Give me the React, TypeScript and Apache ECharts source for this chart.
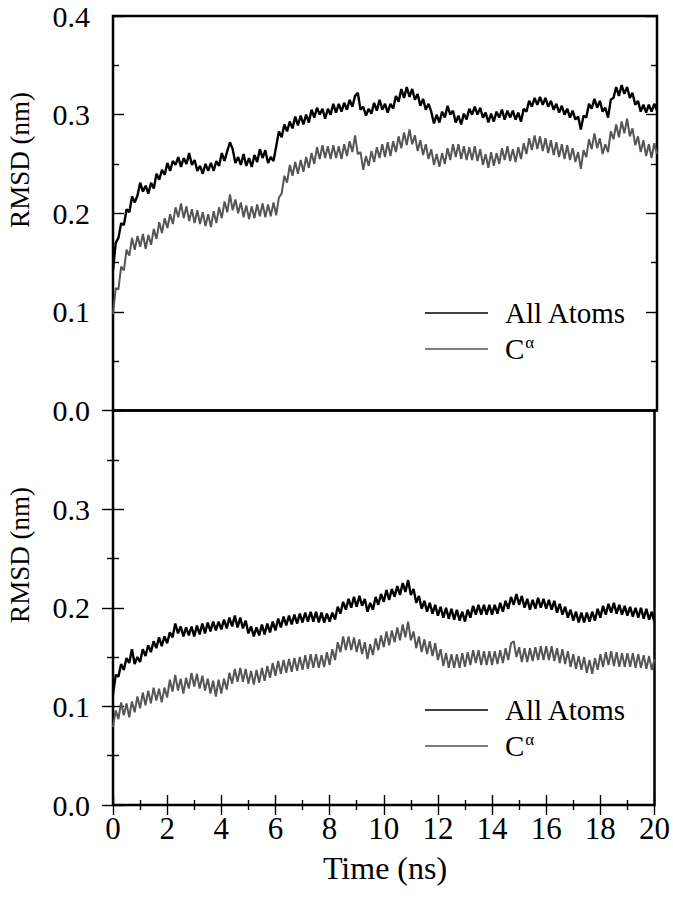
import React, { useEffect, useRef } from "react";
import * as echarts from "echarts";

// Sampling step of the traces (ns)
const TIME_STEP = 0.1;

// Upper panel: All atoms RMSD (nm), t = 0 .. 20 ns
const topAllAtoms = [
  0.142, 0.170, 0.175, 0.190, 0.188, 0.204, 0.201, 0.217, 0.211, 0.218,
  0.231, 0.222, 0.228, 0.220, 0.231, 0.225, 0.240, 0.234, 0.244, 0.239,
  0.251, 0.243, 0.253, 0.249, 0.257, 0.247, 0.256, 0.250, 0.261, 0.249,
  0.254, 0.243, 0.248, 0.240, 0.250, 0.243, 0.251, 0.243, 0.253, 0.248,
  0.261, 0.253, 0.263, 0.272, 0.265, 0.251, 0.257, 0.249, 0.260, 0.248,
  0.256, 0.247, 0.259, 0.252, 0.265, 0.256, 0.264, 0.251, 0.257, 0.253,
  0.268, 0.283, 0.277, 0.290, 0.283, 0.293, 0.286, 0.298, 0.289, 0.299,
  0.290, 0.300, 0.292, 0.305, 0.297, 0.307, 0.300, 0.306, 0.296, 0.306,
  0.300, 0.311, 0.302, 0.311, 0.303, 0.312, 0.305, 0.315, 0.308, 0.319,
  0.322, 0.305, 0.308, 0.299, 0.306, 0.301, 0.312, 0.304, 0.315, 0.305,
  0.311, 0.302, 0.311, 0.306, 0.319, 0.313, 0.326, 0.317, 0.328, 0.318,
  0.326, 0.315, 0.321, 0.309, 0.316, 0.305, 0.311, 0.303, 0.291, 0.300,
  0.292, 0.303, 0.297, 0.309, 0.300, 0.304, 0.292, 0.299, 0.290, 0.301,
  0.295, 0.306, 0.300, 0.308, 0.300, 0.307, 0.297, 0.302, 0.292, 0.301,
  0.293, 0.303, 0.297, 0.305, 0.295, 0.304, 0.297, 0.304, 0.295, 0.302,
  0.293, 0.306, 0.303, 0.314, 0.308, 0.317, 0.310, 0.318, 0.310, 0.317,
  0.308, 0.314, 0.305, 0.311, 0.302, 0.309, 0.300, 0.306, 0.297, 0.304,
  0.295, 0.298, 0.285, 0.299, 0.297, 0.311, 0.306, 0.316, 0.307, 0.314,
  0.303, 0.307, 0.297, 0.315, 0.317, 0.328, 0.319, 0.330, 0.321, 0.328,
  0.317, 0.322, 0.310, 0.314, 0.303, 0.310, 0.302, 0.310, 0.303, 0.311,
  0.304,
];

// Upper panel: C-alpha RMSD (nm)
const topCAlpha = [
  0.098, 0.124, 0.123, 0.146, 0.142, 0.163, 0.157, 0.175, 0.163, 0.177,
  0.166, 0.179, 0.164, 0.178, 0.168, 0.184, 0.174, 0.191, 0.180, 0.195,
  0.185, 0.199, 0.189, 0.206, 0.196, 0.210, 0.195, 0.207, 0.192, 0.204,
  0.190, 0.203, 0.189, 0.201, 0.187, 0.199, 0.186, 0.202, 0.190, 0.206,
  0.195, 0.212, 0.201, 0.219, 0.203, 0.214, 0.200, 0.211, 0.196, 0.208,
  0.194, 0.207, 0.195, 0.209, 0.197, 0.210, 0.196, 0.209, 0.197, 0.211,
  0.198, 0.216, 0.220, 0.238, 0.231, 0.249, 0.238, 0.252, 0.240, 0.254,
  0.242, 0.257, 0.246, 0.261, 0.250, 0.267, 0.255, 0.269, 0.256, 0.268,
  0.255, 0.269, 0.256, 0.268, 0.255, 0.270, 0.258, 0.273, 0.262, 0.279,
  0.260, 0.262, 0.244, 0.258, 0.248, 0.263, 0.252, 0.267, 0.256, 0.270,
  0.257, 0.272, 0.258, 0.273, 0.262, 0.278, 0.266, 0.282, 0.269, 0.285,
  0.270, 0.279, 0.263, 0.274, 0.259, 0.270, 0.255, 0.265, 0.249, 0.260,
  0.247, 0.261, 0.250, 0.266, 0.254, 0.270, 0.257, 0.270, 0.255, 0.268,
  0.254, 0.267, 0.254, 0.268, 0.253, 0.265, 0.249, 0.260, 0.246, 0.262,
  0.248, 0.261, 0.250, 0.266, 0.254, 0.268, 0.253, 0.265, 0.252, 0.267,
  0.255, 0.271, 0.260, 0.276, 0.264, 0.279, 0.265, 0.278, 0.263, 0.276,
  0.261, 0.274, 0.259, 0.272, 0.257, 0.270, 0.255, 0.269, 0.254, 0.266,
  0.252, 0.262, 0.245, 0.264, 0.257, 0.275, 0.265, 0.281, 0.266, 0.276,
  0.260, 0.270, 0.262, 0.283, 0.275, 0.290, 0.277, 0.293, 0.281, 0.296,
  0.278, 0.286, 0.269, 0.278, 0.262, 0.274, 0.258, 0.270, 0.256, 0.271,
  0.260,
];

// Lower panel: All atoms RMSD (nm)
const bottomAllAtoms = [
  0.112, 0.132, 0.130, 0.143, 0.137, 0.149, 0.144, 0.158, 0.143, 0.150,
  0.145, 0.158, 0.151, 0.162, 0.155, 0.166, 0.159, 0.170, 0.161, 0.171,
  0.164, 0.175, 0.170, 0.184, 0.174, 0.181, 0.171, 0.180, 0.172, 0.181,
  0.171, 0.182, 0.173, 0.184, 0.174, 0.185, 0.176, 0.186, 0.177, 0.186,
  0.178, 0.188, 0.179, 0.190, 0.181, 0.192, 0.180, 0.190, 0.179, 0.187,
  0.174, 0.181, 0.171, 0.180, 0.172, 0.183, 0.173, 0.184, 0.175, 0.186,
  0.177, 0.189, 0.180, 0.191, 0.182, 0.192, 0.183, 0.193, 0.184, 0.194,
  0.185, 0.195, 0.186, 0.196, 0.186, 0.196, 0.185, 0.195, 0.185, 0.194,
  0.186, 0.195, 0.188, 0.201, 0.194, 0.206, 0.198, 0.209, 0.200, 0.211,
  0.201, 0.212, 0.202, 0.209, 0.196, 0.205, 0.198, 0.211, 0.203, 0.214,
  0.206, 0.218, 0.208, 0.219, 0.211, 0.222, 0.213, 0.225, 0.216, 0.228,
  0.213, 0.219, 0.205, 0.212, 0.199, 0.207, 0.196, 0.205, 0.194, 0.203,
  0.192, 0.201, 0.190, 0.200, 0.189, 0.199, 0.188, 0.198, 0.187, 0.196,
  0.186, 0.198, 0.190, 0.202, 0.193, 0.203, 0.193, 0.203, 0.193, 0.203,
  0.193, 0.203, 0.194, 0.205, 0.196, 0.207, 0.199, 0.211, 0.203, 0.214,
  0.203, 0.212, 0.200, 0.209, 0.198, 0.208, 0.199, 0.210, 0.200, 0.209,
  0.199, 0.208, 0.198, 0.207, 0.195, 0.204, 0.193, 0.201, 0.190, 0.198,
  0.187, 0.196, 0.185, 0.195, 0.185, 0.195, 0.186, 0.196, 0.187, 0.199,
  0.190, 0.202, 0.193, 0.204, 0.195, 0.205, 0.194, 0.203, 0.193, 0.202,
  0.192, 0.201, 0.191, 0.200, 0.190, 0.200, 0.189, 0.199, 0.188, 0.196,
  0.185,
];

// Lower panel: C-alpha RMSD (nm)
const bottomCAlpha = [
  0.079, 0.096, 0.087, 0.104, 0.091, 0.103, 0.089, 0.105, 0.094, 0.110,
  0.098, 0.114, 0.101, 0.116, 0.103, 0.119, 0.106, 0.118, 0.104, 0.119,
  0.109, 0.127, 0.115, 0.132, 0.116, 0.128, 0.113, 0.129, 0.118, 0.134,
  0.120, 0.133, 0.118, 0.131, 0.116, 0.128, 0.113, 0.126, 0.110, 0.127,
  0.113, 0.128, 0.117, 0.134, 0.123, 0.138, 0.125, 0.139, 0.125, 0.138,
  0.123, 0.136, 0.122, 0.137, 0.124, 0.139, 0.126, 0.141, 0.129, 0.144,
  0.131, 0.146, 0.133, 0.147, 0.134, 0.148, 0.135, 0.149, 0.136, 0.150,
  0.137, 0.152, 0.138, 0.153, 0.139, 0.153, 0.139, 0.152, 0.140, 0.155,
  0.142, 0.158, 0.147, 0.165, 0.155, 0.171, 0.157, 0.171, 0.157, 0.170,
  0.155, 0.168, 0.153, 0.165, 0.148, 0.163, 0.152, 0.169, 0.157, 0.172,
  0.160, 0.176, 0.162, 0.177, 0.165, 0.180, 0.167, 0.183, 0.170, 0.186,
  0.167, 0.176, 0.159, 0.171, 0.155, 0.168, 0.153, 0.166, 0.151, 0.164,
  0.147, 0.158, 0.141, 0.154, 0.139, 0.153, 0.139, 0.153, 0.139, 0.154,
  0.140, 0.155, 0.142, 0.157, 0.144, 0.157, 0.142, 0.156, 0.142, 0.156,
  0.142, 0.156, 0.143, 0.157, 0.144, 0.159, 0.147, 0.164, 0.166, 0.150,
  0.160, 0.145, 0.159, 0.145, 0.159, 0.146, 0.160, 0.147, 0.161, 0.147,
  0.161, 0.147, 0.161, 0.146, 0.159, 0.144, 0.158, 0.143, 0.156, 0.140,
  0.153, 0.138, 0.151, 0.137, 0.150, 0.134, 0.147, 0.133, 0.149, 0.137,
  0.153, 0.140, 0.155, 0.142, 0.156, 0.141, 0.155, 0.140, 0.154, 0.140,
  0.154, 0.140, 0.154, 0.139, 0.153, 0.139, 0.152, 0.138, 0.151, 0.137,
  0.148,
];

const SERIES_NAMES = ["All Atoms", "Cα"];
const X_MIN = 0;
const X_MAX = 20;
const X_INTERVAL = 2;
const Y_MIN = 0;
const Y_MAX = 0.4;
const Y_INTERVAL = 0.1;
const Y_TITLE = "RMSD (nm)";
const X_TITLE = "Time (ns)";

const SERIF = "Liberation Serif";
const ALL_COLOR = "#000000";
const CA_COLOR = "#555555";

function toPairs(values: number[]) {
  return values.map((v, i) => [Number((i * TIME_STEP).toFixed(1)), v]);
}

export default function App() {
  const ref = useRef<HTMLDivElement>(null);

  useEffect(() => {
    document.body.style.margin = "0";
    if (!ref.current) return;
    const chart = echarts.init(ref.current, null, { renderer: "svg" });

    const left = 113;
    const width = 544;
    const top1 = 16;
    const h = 394.5;
    const top2 = top1 + h;

    const tickLine = { color: "#000", width: 1.4 };

    const yAxis = (gridIndex: number, position: "left" | "right", labels: boolean, hideMax: boolean) => ({
      type: "value",
      gridIndex,
      position,
      min: Y_MIN,
      max: Y_MAX,
      interval: Y_INTERVAL,
      axisLine: { show: false },
      axisTick: { show: true, inside: true, length: 11, lineStyle: tickLine },
      minorTick: { show: true, splitNumber: 2, length: 6, lineStyle: tickLine },
      splitLine: { show: false },
      minorSplitLine: { show: false },
      axisLabel: {
        show: labels,
        margin: 23,
        color: "#000",
        fontFamily: SERIF,
        fontSize: 30,
        formatter: (v: number) => (hideMax && v > Y_MAX - 0.05 ? "" : v.toFixed(1)),
      },
    });

    const xAxis = (gridIndex: number, position: "top" | "bottom", ticks: boolean, labels: boolean) => ({
      type: "value",
      gridIndex,
      position,
      min: X_MIN,
      max: X_MAX,
      interval: X_INTERVAL,
      axisLine: { show: false },
      axisTick: { show: ticks, inside: true, length: 10, lineStyle: tickLine },
      minorTick: { show: ticks, splitNumber: 2, length: 5, lineStyle: tickLine },
      splitLine: { show: false },
      minorSplitLine: { show: false },
      axisLabel: {
        show: labels,
        margin: 8,
        color: "#000",
        fontFamily: SERIF,
        fontSize: 31,
      },
    });

    const legendCfg = (topPx: number) => ({
      left: 425,
      top: topPx,
      orient: "vertical",
      padding: 0,
      itemGap: 6,
      itemWidth: 63,
      itemHeight: 1.5,
      icon: "rect",
      selectedMode: false,
      data: SERIES_NAMES,
      formatter: (name: string) => (name === "Cα" ? "{base|C}{sup|α}" : name),
      textStyle: {
        fontFamily: SERIF,
        fontSize: 29,
        lineHeight: 30,
        color: "#000",
        padding: [0, 0, 0, 12],
        rich: {
          base: { fontFamily: SERIF, fontSize: 29, lineHeight: 30, color: "#000" },
          sup: { fontFamily: SERIF, fontSize: 17, color: "#000", verticalAlign: "top", padding: [0, 0, 0, 1] },
        },
      },
    });

    const lineSeries = (name: string, values: number[], xi: number, yi: number) => ({
      type: "line",
      name,
      xAxisIndex: xi,
      yAxisIndex: yi,
      data: toPairs(values),
      symbol: "none",
      showSymbol: false,
      clip: true,
      z: name === "Cα" ? 2 : 3,
      lineStyle: {
        color: name === "Cα" ? CA_COLOR : ALL_COLOR,
        width: name === "Cα" ? 2.0 : 2.4,
      },
      itemStyle: { color: name === "Cα" ? CA_COLOR : ALL_COLOR },
    });

    const option = {
      animation: false,
      backgroundColor: "#ffffff",
      textStyle: { fontFamily: SERIF },
      grid: [
        { left, top: top1, width, height: h, show: true, borderColor: "#000", borderWidth: 2.5, backgroundColor: "transparent" },
        { left, top: top2, width, height: h, show: true, borderColor: "#000", borderWidth: 2.5, backgroundColor: "transparent" },
      ],
      xAxis: [
        xAxis(0, "bottom", false, false),
        xAxis(1, "bottom", true, true),
        xAxis(1, "top", true, false),
      ],
      yAxis: [
        yAxis(0, "left", true, false),
        yAxis(0, "right", false, false),
        yAxis(1, "left", true, true),
        yAxis(1, "right", false, false),
      ],
      legend: [legendCfg(298), legendCfg(695)],
      series: [
        lineSeries("Cα", topCAlpha, 0, 0),
        lineSeries("All Atoms", topAllAtoms, 0, 0),
        lineSeries("Cα", bottomCAlpha, 1, 2),
        lineSeries("All Atoms", bottomAllAtoms, 1, 2),
      ],
      graphic: [
        {
          type: "text",
          x: 20,
          y: 160,
          rotation: Math.PI / 2,
          style: { text: Y_TITLE, fontFamily: SERIF, fontSize: 27, fill: "#000", align: "center", verticalAlign: "middle" },
        },
        {
          type: "text",
          x: 20,
          y: 555,
          rotation: Math.PI / 2,
          style: { text: Y_TITLE, fontFamily: SERIF, fontSize: 27, fill: "#000", align: "center", verticalAlign: "middle" },
        },
        {
          type: "text",
          x: 385,
          y: 868,
          style: { text: X_TITLE, fontFamily: SERIF, fontSize: 32, fill: "#000", align: "center", verticalAlign: "middle" },
        },
      ],
    };

    chart.setOption(option as any);
    return () => chart.dispose();
  }, []);

  return <div ref={ref} style={{ width: 673, height: 900 }} />;
}
